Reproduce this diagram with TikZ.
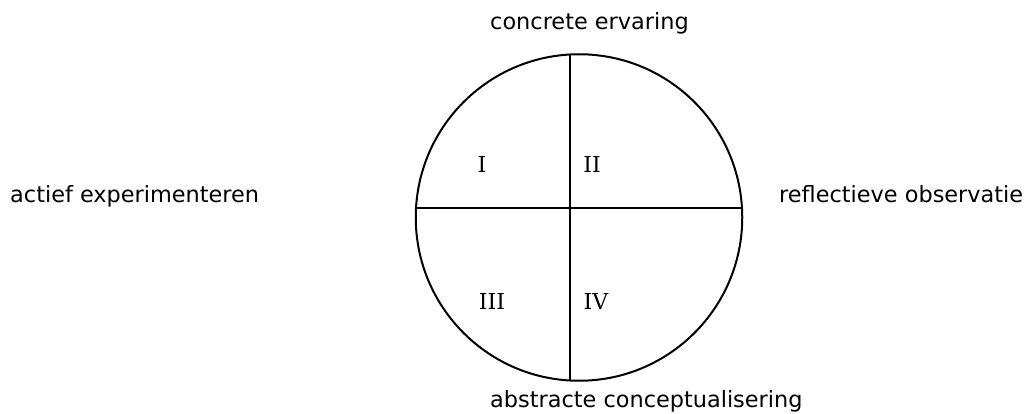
\documentclass[tikz,border=0pt]{standalone}
\usepackage{fontspec}
\setmainfont{DejaVu Sans}
\newfontfamily\romfont{DejaVu Serif}
\usetikzlibrary{positioning,calc}
\tikzset{
  lbl/.style  ={font=\fontsize{22.4}{26}\selectfont,anchor=base west,inner sep=0pt},
  quad/.style ={font=\romfont\fontsize{22}{26}\selectfont,anchor=base,inner sep=0pt},
  rim/.style  ={draw=black,line width=2pt,circle,inner sep=0pt},
  axis/.style ={draw=black,line width=2pt},
}

\begin{document}
\begin{tikzpicture}[x=1pt,y=-1pt]
  \useasboundingbox (0,0) rectangle (1025,414);
  % circle and axes
  \node[rim,minimum size=326.5pt] (kreis) at (579,217.5) {};
  \coordinate (hl) at (416.03,208);
  \coordinate (hr) at (741.97,208);
  \coordinate (vt) at (570,54.5);
  \coordinate (vb) at (570,380.5);
  \draw[axis] (hl) -- (hr);
  \draw[axis] (vt) -- (vb);

  % quadrants
  \node[quad] (q1) at (482,173) {I};
  \node[quad] (q2) at (592,173) {II};
  \node[quad] (q3) at (492,309) {III};
  \node[quad] (q4) at (596,309) {IV};

  % poles
  \node[lbl] (ce) at (490,30) {concrete ervaring};
  \node[lbl] (ae) at (10,203) {actief experimenteren};
  \node[lbl] (ro) at (779,203) {reflectieve observatie};
  \node[lbl] (ac) at (490,407) {abstracte conceptualisering};
\end{tikzpicture}
\end{document}
